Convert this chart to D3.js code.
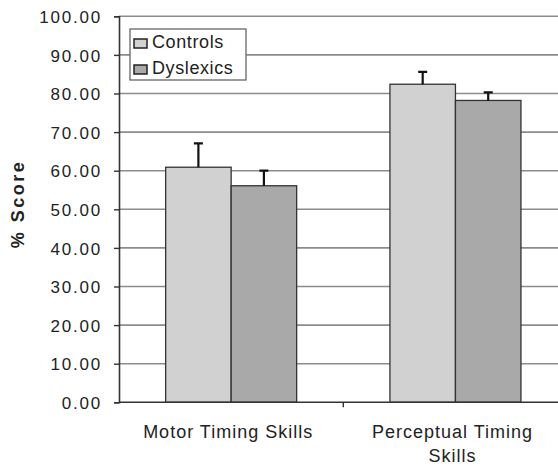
<!DOCTYPE html>
<html>
<head>
<meta charset="utf-8">
<script src="https://cdn.jsdelivr.net/npm/d3@7"></script>
<style>
  body { margin: 0; background: #fff; }
  text { font-family: "Liberation Sans", Arial, sans-serif; fill: #222; }
</style>
</head>
<body>
<div id="chart"></div>
<script>
"use strict";

// data
var categories = ["Motor Timing Skills", "Perceptual Timing Skills"];
var groups = ["Controls", "Dyslexics"];
var controls = [60.9, 82.4];
var dyslexics = [56.1, 78.2];
var controlsErr = [6.2, 3.2];
var dyslexicsErr = [3.9, 2.1];
var yTicks = [0, 10, 20, 30, 40, 50, 60, 70, 80, 90, 100];

var colors = {"Controls": "#d1d1d1", "Dyslexics": "#a9a9a9"};

var width = 558, height = 466;
var plotLeft = 119, plotTop = 16.3, plotRight = 567.6, plotBottom = 402.3;

var svg = d3.select("#chart")
    .append("svg")
    .attr("width", width)
    .attr("height", height);

var y = d3.scaleLinear().domain([0, 100]).range([plotBottom, plotTop]);

var x0 = d3.scaleBand().domain(categories).range([plotLeft, plotRight]).padding(0);
var x1 = d3.scaleBand().domain(groups).range([0, x0.bandwidth()])
    .paddingInner(0).paddingOuter(0.712);

// gridlines
svg.append("g")
    .selectAll("line")
    .data(yTicks.slice(1))
    .enter()
    .append("line")
    .attr("x1", plotLeft)
    .attr("x2", plotRight)
    .attr("y1", function(d) { return y(d) })
    .attr("y2", function(d) { return y(d) })
    .attr("stroke", "#8c8c8c")
    .attr("stroke-width", 1.6)

// y axis
var yAxis = d3.axisLeft(y)
    .tickValues(yTicks)
    .tickFormat(d3.format(".2f"))
    .tickSize(5)
    .tickPadding(12);

var gy = svg.append("g")
    .attr("transform", "translate(" + plotLeft + ",0)")
    .call(yAxis);
gy.select(".domain").attr("stroke", "#333").attr("stroke-width", 1.6);
gy.selectAll(".tick line").attr("stroke", "#333").attr("stroke-width", 1.4);
gy.selectAll(".tick text")
    .style("font-family", "'Liberation Sans', Arial, sans-serif")
    .style("font-size", "17px")
    .style("letter-spacing", "1.8px")
    .attr("fill", "#222")
    .attr("dy", "0.36em");

// bars
var rows = categories.map(function(c, i) {
  return [
    {cat: c, key: "Controls", value: controls[i], err: controlsErr[i]},
    {cat: c, key: "Dyslexics", value: dyslexics[i], err: dyslexicsErr[i]}
  ];
});

var grp = svg.selectAll(".cat")
    .data(rows)
    .enter()
    .append("g")
    .attr("class", "cat")
    .attr("transform", function(d) { return "translate(" + x0(d[0].cat) + ",0)" });

grp.selectAll("rect")
    .data(function(d) { return d })
    .enter()
    .append("rect")
    .attr("x", function(d) { return x1(d.key) })
    .attr("y", function(d) { return y(d.value) })
    .attr("width", x1.bandwidth())
    .attr("height", function(d) { return y(0) - y(d.value) })
    .attr("fill", function(d) { return colors[d.key] })
    .attr("stroke", "#333")
    .attr("stroke-width", 1.3)

// error bars (upper only)
grp.selectAll(".err")
    .data(function(d) { return d })
    .enter()
    .append("path")
    .attr("class", "err")
    .attr("d", function(d) {
      var cx = x1(d.key) + x1.bandwidth() / 2;
      var yt = y(d.value + d.err);
      return "M" + cx + "," + y(d.value) + "V" + yt + "M" + (cx - 4.5) + "," + yt + "H" + (cx + 4.5);
    })
    .attr("fill", "none")
    .attr("stroke", "#111")
    .attr("stroke-width", 2.2)

// x axis
svg.append("line")
    .attr("x1", plotLeft).attr("x2", plotRight)
    .attr("y1", plotBottom).attr("y2", plotBottom)
    .attr("stroke", "#333").attr("stroke-width", 1.6)

svg.selectAll(".xtick")
    .data(categories.slice(1))
    .enter()
    .append("line")
    .attr("x1", function(d) { return x0(d) })
    .attr("x2", function(d) { return x0(d) })
    .attr("y1", plotBottom)
    .attr("y2", plotBottom + 5)
    .attr("stroke", "#333").attr("stroke-width", 1.4)

var catLines = {"Motor Timing Skills": ["Motor Timing Skills"],
                "Perceptual Timing Skills": ["Perceptual Timing", "Skills"]};

svg.selectAll(".xlab")
    .data(categories)
    .enter()
    .append("text")
    .attr("class", "xlab")
    .attr("text-anchor", "middle")
    .style("font-size", "18px")
    .style("letter-spacing", "1px")
    .each(function(d) {
      var t = d3.select(this);
      var cx = x0(d) + x0.bandwidth() / 2 - 3;
      catLines[d].forEach(function(line, i) {
        t.append("tspan")
          .attr("x", cx)
          .attr("y", 437.5 + i * 24.5)
          .text(line);
      });
    })

// y title
svg.append("text")
    .attr("transform", "translate(24,204) rotate(-90)")
    .attr("text-anchor", "middle")
    .style("font-size", "18px")
    .style("font-weight", "bold")
    .style("letter-spacing", "2.5px")
    .text("% Score")

// legend
var legend = svg.append("g").attr("transform", "translate(130,29)");
legend.append("rect")
    .attr("width", 116)
    .attr("height", 51)
    .attr("fill", "#fff")
    .attr("stroke", "#666")
    .attr("stroke-width", 1.3)

var items = legend.selectAll(".item")
    .data(groups)
    .enter()
    .append("g")
    .attr("class", "item")
    .attr("transform", function(d, i) { return "translate(4," + (5 + i * 26) + ")" })

items.append("rect")
    .attr("x", 0).attr("y", 5)
    .attr("width", 13).attr("height", 9)
    .attr("fill", function(d) { return colors[d] })
    .attr("stroke", "#222")
    .attr("stroke-width", 1.5)

items.append("text")
    .attr("x", 18)
    .attr("y", 14)
    .style("font-size", "18px")
    .style("letter-spacing", "0.6px")
    .text(function(d) { return d })
</script>
</body>
</html>
